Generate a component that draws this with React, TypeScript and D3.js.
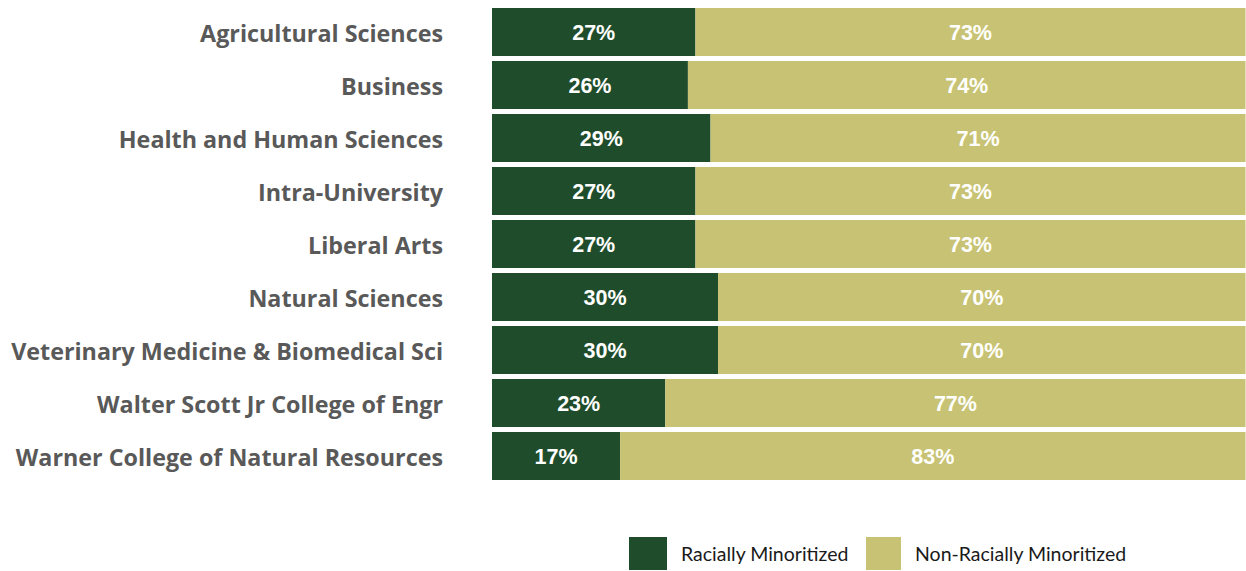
import React from "react";
import * as d3 from "d3";

const categories = [
  "Agricultural Sciences",
  "Business",
  "Health and Human Sciences",
  "Intra-University",
  "Liberal Arts",
  "Natural Sciences",
  "Veterinary Medicine & Biomedical Sci",
  "Walter Scott Jr College of Engr",
  "Warner College of Natural Resources",
];
const minoritized = [27, 26, 29, 27, 27, 30, 30, 23, 17];
const nonMinoritized = [73, 74, 71, 73, 73, 70, 70, 77, 83];
const seriesNames = ["Racially Minoritized", "Non-Racially Minoritized"];
const colors = ["#1F4D2C", "#C8C374"];

const W = 1246;
const H = 571;

export default function App() {
  const y = d3
    .scaleBand<string>()
    .domain(categories)
    .range([5.5, 482.5])
    .paddingInner(5 / 53)
    .paddingOuter(2.5 / 53);
  const x = d3.scaleLinear().domain([0, 100]).range([492, 1245.5]);

  const rows = categories.map((c, i) => ({
    cat: c,
    values: [minoritized[i], nonMinoritized[i]],
  }));
  const stack = d3
    .stack<any>()
    .keys(["0", "1"])
    .value((d: any, k: string) => d.values[+k]);
  const stacked = stack(rows);

  const labelFont = "'Open Sans', Lato, sans-serif";
  const legendFont = "Lato, 'Open Sans', sans-serif";
  return (
    <svg
      width={W}
      height={H}
      style={{ position: "absolute", left: 0, top: 0, background: "#fff" }}
    >
      {stacked.map((layer, li) => (
        <g key={li}>
          {layer.map((seg, i) => {
            const x0 = x(seg[0]);
            const x1 = x(seg[1]);
            const yy = y(categories[i])!;
            return (
              <g key={i}>
                <rect
                  x={x0}
                  y={yy}
                  width={x1 - x0}
                  height={y.bandwidth()}
                  fill={colors[li]}
                />
                <text
                  x={(x0 + x1) / 2}
                  y={yy + y.bandwidth() / 2}
                  dy="0.36em"
                  textAnchor="middle"
                  fill="#fff"
                  fontFamily="'Liberation Sans', Arial, sans-serif"
                  fontWeight="bold"
                  fontSize={21.5}
                >
                  {(seg[1] - seg[0]).toFixed(0)}%
                </text>
              </g>
            );
          })}
        </g>
      ))}
      {categories.map((c) => (
        <text
          key={c}
          x={443}
          y={y(c)! + y.bandwidth() / 2}
          dy="0.41em"
          textAnchor="end"
          fill="#595959"
          fontFamily={labelFont}
          fontWeight="bold"
          fontSize={23.3}
        >
          {c}
        </text>
      ))}
      <g>
        <rect x={629} y={537} width={38} height={33} fill={colors[0]} />
        <text
          x={681}
          y={554}
          dy="0.35em"
          fill="#1a1a1a"
          fontFamily={legendFont}
          fontSize={19.5}
        >
          {seriesNames[0]}
        </text>
        <rect x={866} y={537} width={35} height={33} fill={colors[1]} />
        <text
          x={915}
          y={554}
          dy="0.35em"
          fill="#1a1a1a"
          fontFamily={legendFont}
          fontSize={19.5}
        >
          {seriesNames[1]}
        </text>
      </g>
    </svg>
  );
}
